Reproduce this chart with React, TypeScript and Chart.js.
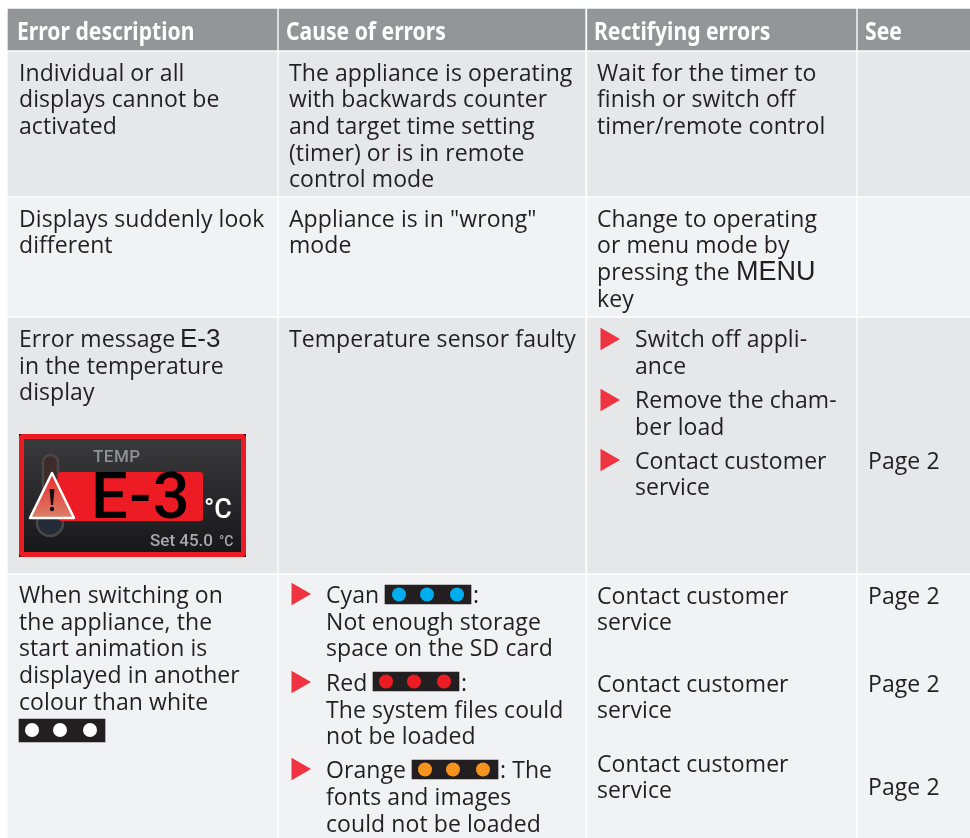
import React, { useEffect, useRef } from "react";
import { Chart, registerables } from "chart.js";

Chart.register(...registerables);

// ---- table content ----
const headers = ["Error description", "Cause of errors", "Rectifying errors", "See"];
const descriptionLines = [
  "Individual or all", "displays cannot be", "activated",
  "Displays suddenly look", "different",
  "Error message ", "in the temperature", "display",
  "When switching on", "the appliance, the", "start animation is", "displayed in another", "colour than white",
];
const causeLines = [
  "The appliance is operating", "with backwards counter", "and target time setting", "(timer) or is in remote", "control mode",
  "Appliance is in \"wrong\"", "mode",
  "Temperature sensor faulty",
  "Cyan", ":", "Not enough storage", "space on the SD card",
  "Red", ":", "The system files could", "not be loaded",
  "Orange", ": The", "fonts and images", "could not be loaded",
];
const remedyLines = [
  "Wait for the timer to", "finish or switch off", "timer/remote control",
  "Change to operating", "or menu mode by", "pressing the ", "key",
  "Switch off appli-", "ance", "Remove the cham-", "ber load", "Contact customer", "service",
  "Contact customer", "service", "Contact customer", "service", "Contact customer", "service",
];
const seeLines = ["Page 2", "Page 2", "Page 2", "Page 2"];
const keyLabels = ["E-3", "MENU"];
const panelLabels = ["TEMP", "E-3", "°C", "Set 45.0", "°C"];

// ---- table geometry (axis units) ----
const columnSpans = [[8, 277], [279, 585], [587.5, 856], [858, 970]];
const rowSpans = [[9, 50], [52, 196], [198, 316], [318, 573], [575, 838]];
const rowColors = ["#939598", "#e6e7e8", "#f1f2f4", "#e6e7e8", "#f1f2f4"];

const stripCenters = [428, 416, 455, 62];
const stripSpans = [[585, 604], [672, 691], [760, 779], [719, 742]];
const stripDotsX = [[399, 427, 457], [386, 414, 444], [425, 453, 483], [32, 60, 90]];
const stripDotsY = [594.5, 681.5, 769.5, 730];
const stripDotColors = ["#00aeef", "#ed1c24", "#f7941d", "#ffffff"];

const bulletX = [607, 607, 607, 298, 298, 298];
const bulletY = [339, 400, 460, 594, 682, 769];

const headerX = [17, 286, 594, 865];
const descX = [19, 19, 19, 19, 19, 19, 19, 19, 19, 19, 19, 19, 19];
const descY = [80.5, 107, 133.5, 226.5, 253, 346.5, 373.5, 399.5, 602.5, 629.5, 655.5, 682.5, 709.5];
const causeX = [289, 289, 289, 289, 289, 289, 289, 289, 326, 473, 326, 326, 326, 461, 326, 326, 326, 500, 326, 326];
const causeY = [80.5, 107, 133.5, 160.5, 186.5, 226.5, 253, 346.5, 602.5, 602.5, 629.5, 655.5, 690.5, 690.5, 717.5, 743.5, 777.5, 777.5, 805, 831.5];
const remedyX = [597, 597, 597, 597, 597, 597, 597, 635, 635, 635, 635, 635, 635, 597, 597, 597, 597, 597, 597];
const remedyY = [80.5, 107, 133.5, 226.5, 253, 279.5, 306.5, 346.5, 373.5, 407.5, 434.5, 468.5, 494.5, 603.5, 630, 691.5, 717.5, 771.5, 797.5];
const seeY = [468.5, 603.5, 691.5, 794.5];

const BODY_FONT = '23px "Open Sans"';
const BODY_SPACING = "0.08px";
const INK = "#231f20";

function put(ctx: CanvasRenderingContext2D, text: string, x: number, y: number, font: string, color: string, spacing = "0px") {
  ctx.font = font;
  ctx.fillStyle = color;
  (ctx as any).letterSpacing = spacing;
  ctx.textAlign = "left";
  ctx.textBaseline = "alphabetic";
  ctx.fillText(text, x, y);
}

const tablePlugin = {
  id: "tableText",
  afterDatasetsDraw(chart: any) {
    const ctx: CanvasRenderingContext2D = chart.ctx;
    const sx = (v: number) => chart.scales.x.getPixelForValue(v);
    const sy = (v: number) => chart.scales.y.getPixelForValue(v);
    ctx.save();
    headers.forEach((h, i) => {
      ctx.save();
      ctx.translate(sx(headerX[i]), sy(40));
      ctx.scale(0.845, 1);
      put(ctx, h, 0, 0, 'bold 25px "Noto Sans"', "#ffffff");
      ctx.restore();
    });
    descriptionLines.forEach((t, i) => put(ctx, t, sx(descX[i]), sy(descY[i]), BODY_FONT, INK, BODY_SPACING));
    causeLines.forEach((t, i) => put(ctx, t, sx(causeX[i]), sy(causeY[i]), BODY_FONT, INK, BODY_SPACING));
    remedyLines.forEach((t, i) => put(ctx, t, sx(remedyX[i]), sy(remedyY[i]), BODY_FONT, INK, BODY_SPACING));
    seeLines.forEach((t, i) => put(ctx, t, sx(868), sy(seeY[i]), BODY_FONT, INK, BODY_SPACING));
    put(ctx, keyLabels[0], sx(180), sy(347), '26px "Liberation Sans"', INK);
    put(ctx, keyLabels[1], sx(736), sy(280), '27px "Liberation Sans"', INK);

    // status display picture
    ctx.fillStyle = "#0c0c0c";
    ctx.fillRect(sx(19), sy(434), 227, 123);
    ctx.fillStyle = "#ed1c24";
    ctx.beginPath();
    ctx.roundRect(sx(19), sy(434), 227, 123, 4);
    ctx.fill();
    const g = ctx.createLinearGradient(0, sy(439), 0, sy(552));
    g.addColorStop(0, "#3a3a3c");
    g.addColorStop(1, "#18181a");
    ctx.fillStyle = g;
    ctx.fillRect(sx(24), sy(439), 217, 113);
    // thermometer
    ctx.fillStyle = "#3f2a2a";
    ctx.strokeStyle = "#48484a";
    ctx.lineWidth = 2.5;
    ctx.beginPath();
    ctx.roundRect(sx(43), sy(455), 15, 60, 7);
    ctx.fill();
    ctx.stroke();
    ctx.fillStyle = "#222b36";
    ctx.beginPath();
    ctx.arc(sx(50), sy(523), 13, 0, Math.PI * 2);
    ctx.fill();
    ctx.stroke();
    // readout
    ctx.fillStyle = "#ed1c24";
    ctx.beginPath();
    ctx.roundRect(sx(58), sy(472), 145, 49, 3);
    ctx.fill();
    put(ctx, panelLabels[0], sx(93), sy(462), '500 17px Roboto', "#8f9194", "0.5px");
    put(ctx, panelLabels[1], sx(91), sy(518), '500 65px Roboto', "#000000", "1.5px");
    put(ctx, panelLabels[2], sx(204), sy(518), '500 27px Roboto', "#ffffff");
    put(ctx, panelLabels[3], sx(150), sy(546), '500 17px Roboto', "#a7a9ac");
    put(ctx, panelLabels[4], sx(219), sy(546), '500 14px Roboto', "#a7a9ac");
    // warning sign
    const w = ctx.createLinearGradient(0, sy(473), 0, sy(519));
    w.addColorStop(0, "#ed2a2a");
    w.addColorStop(1, "#d9806a");
    ctx.fillStyle = w;
    ctx.strokeStyle = "#ffffff";
    ctx.lineWidth = 2.5;
    ctx.lineJoin = "round";
    ctx.beginPath();
    ctx.moveTo(sx(52), sy(473));
    ctx.lineTo(sx(74), sy(518));
    ctx.lineTo(sx(30), sy(518));
    ctx.closePath();
    ctx.fill();
    ctx.stroke();
    ctx.fillStyle = "#111111";
    ctx.beginPath();
    ctx.moveTo(sx(49.5), sy(489));
    ctx.lineTo(sx(54.5), sy(489));
    ctx.lineTo(sx(53), sy(505));
    ctx.lineTo(sx(51), sy(505));
    ctx.closePath();
    ctx.fill();
    ctx.beginPath();
    ctx.arc(sx(52), sy(509), 2.2, 0, Math.PI * 2);
    ctx.fill();
    ctx.restore();
  },
};

export default function App() {
  const ref = useRef<HTMLCanvasElement | null>(null);
  useEffect(() => {
    if (!ref.current) return;
    const cells = columnSpans.map((c) => ({
      type: "bar" as const,
      order: 5,
      grouped: false,
      barThickness: c[1] - c[0],
      backgroundColor: rowColors,
      borderWidth: 0,
      data: rowSpans.map((r) => ({ x: (c[0] + c[1]) / 2, y: r })),
    }));
    const strips = {
      type: "bar" as const,
      order: 4,
      grouped: false,
      barThickness: 86,
      backgroundColor: "#231f20",
      borderWidth: 0,
      data: stripCenters.map((x, i) => ({ x, y: stripSpans[i] })),
    };
    const dots = stripDotsX.map((xs, i) => ({
      type: "scatter" as const,
      order: 3,
      pointRadius: 7,
      pointBorderWidth: 0,
      backgroundColor: stripDotColors[i],
      data: xs.map((x) => ({ x, y: stripDotsY[i] })),
    }));
    const bullets = {
      type: "scatter" as const,
      order: 2,
      pointStyle: "triangle",
      pointRotation: 90,
      pointRadius: 13,
      pointBorderWidth: 0,
      backgroundColor: "#ef3340",
      data: bulletX.map((x, i) => ({ x, y: bulletY[i] })),
    };
    const chart = new Chart(ref.current, {
      type: "bar",
      data: { datasets: [...cells, strips, ...dots, bullets] as any },
      options: {
        responsive: false,
        animation: false,
        layout: { padding: 0, autoPadding: false },
        plugins: { legend: { display: false }, tooltip: { enabled: false }, title: { display: false } },
        scales: {
          x: { type: "linear", min: 0, max: 970, display: false, offset: false },
          y: { type: "linear", min: 0, max: 838, reverse: true, display: false },
        },
      },
      plugins: [tablePlugin],
    } as any);
    return () => chart.destroy();
  }, []);
  return (
    <canvas
      ref={ref}
      width={970}
      height={838}
      style={{ position: "absolute", left: 0, top: 0, width: 970, height: 838, display: "block" }}
    />
  );
}
